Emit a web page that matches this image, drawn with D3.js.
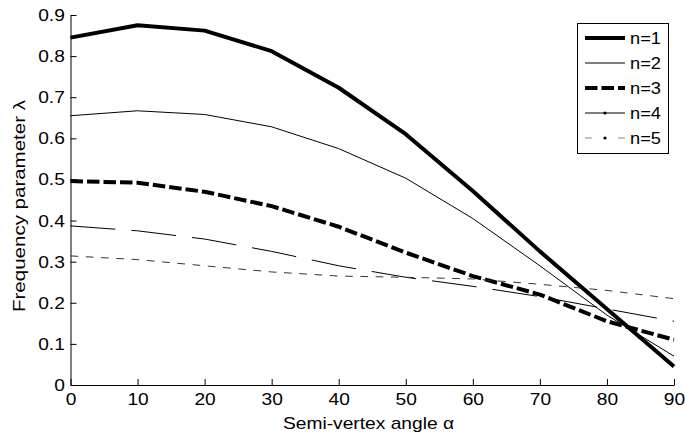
<!DOCTYPE html>
<html>
<head>
<meta charset="utf-8">
<script src="https://cdn.jsdelivr.net/npm/d3@7"></script>
<style>
  html, body { margin: 0; padding: 0; background: #fff; }
  svg { display: block; font-family: "Liberation Sans", Arial, sans-serif; }
</style>
</head>
<body>
<svg id="chart" width="685" height="439"></svg>
<script>
// Semi-vertex angle (degrees)
const angles = [0, 10, 20, 30, 40, 50, 60, 70, 80, 90];

// Frequency parameter for circumferential wave numbers n = 1..5
const n1 = [0.845, 0.875, 0.862, 0.812, 0.723, 0.610, 0.472, 0.325, 0.185, 0.045];
const n2 = [0.655, 0.667, 0.658, 0.628, 0.575, 0.503, 0.405, 0.290, 0.170, 0.070];
const n3 = [0.496, 0.492, 0.470, 0.435, 0.385, 0.322, 0.265, 0.220, 0.155, 0.110];
const n4 = [0.387, 0.375, 0.355, 0.325, 0.290, 0.262, 0.240, 0.215, 0.185, 0.155];
const n5 = [0.314, 0.305, 0.290, 0.275, 0.265, 0.262, 0.258, 0.245, 0.230, 0.210];

const seriesNames = ["n=1", "n=2", "n=3", "n=4", "n=5"];
const xTicks = [0, 10, 20, 30, 40, 50, 60, 70, 80, 90];
const yTicks = [0, 0.1, 0.2, 0.3, 0.4, 0.5, 0.6, 0.7, 0.8, 0.9];

const xTitle = "Semi-vertex angle α";
const yTitle = "Frequency parameter λ";

const styles = [
  { width: 4,   dash: null,       color: "#000", legendColor: "#000", legendDash: null,     dot: false },
  { width: 1,   dash: null,       color: "#000", legendColor: "#000", legendDash: null,     dot: false },
  { width: 4,   dash: "12.5,4",   color: "#000", legendColor: "#000", legendDash: "12.5,4", dot: true  },
  { width: 1,   dash: "45,16",    color: "#000", legendColor: "#000", legendDash: null,     dot: true  },
  { width: 1,   dash: "7.7,7.6",  color: "#333", legendColor: "#888", legendDash: "7,26",   dot: true  }
];

const svg = d3.select("#chart");
const FS = 17;       // font size
const SX = 1.13;     // horizontal glyph stretch

const x = d3.scaleLinear().domain([0, 90]).range([70.5, 674]);
const y = d3.scaleLinear().domain([0, 0.9]).range([385, 15]);

// Axes (ticks point inward, no box)
const xAxis = d3.axisBottom(x).tickValues(xTicks).tickFormat(d3.format("d"))
  .tickSizeInner(-6).tickSizeOuter(0).tickPadding(8);
const yAxis = d3.axisLeft(y).tickValues(yTicks).tickFormat(d => d === 0 ? "0" : d3.format(".1f")(d))
  .tickSizeInner(-6).tickSizeOuter(0).tickPadding(5);

const gx = svg.append("g").attr("transform", `translate(0,${y(0)})`).call(xAxis);
const gy = svg.append("g").attr("transform", `translate(${x(0)},0)`).call(yAxis);

[gx, gy].forEach(g => {
  g.select(".domain").attr("stroke", "#000").attr("stroke-width", 1);
  g.selectAll(".tick line").attr("stroke", "#000").attr("stroke-width", 1);
  g.selectAll(".tick text")
    .attr("font-size", FS)
    .attr("font-family", "Liberation Sans, Arial, sans-serif")
    .attr("fill", "#000")
    .attr("transform", `scale(${SX},1)`);
});

// Series
const data = [n1, n2, n3, n4, n5];
const line = d3.line().x((d, i) => x(angles[i])).y(d => y(d));

data.forEach((vals, k) => {
  const s = styles[k];
  svg.append("path")
    .datum(vals)
    .attr("d", line)
    .attr("fill", "none")
    .attr("stroke", s.color)
    .attr("stroke-width", s.width)
    .attr("stroke-linejoin", "round")
    .attr("stroke-dasharray", s.dash);
});

// Axis titles
svg.append("text")
  .attr("x", 283).attr("y", 429)
  .attr("font-size", FS)
  .attr("textLength", 171).attr("lengthAdjust", "spacingAndGlyphs")
  .text(xTitle);

svg.append("text")
  .attr("transform", "translate(25,312) rotate(-90)")
  .attr("x", 0).attr("y", 0)
  .attr("font-size", FS)
  .attr("textLength", 212).attr("lengthAdjust", "spacingAndGlyphs")
  .text(yTitle);

// Legend
const lg = svg.append("g");
lg.append("rect")
  .attr("x", 577.5).attr("y", 23.5).attr("width", 91).attr("height", 130)
  .attr("fill", "#fff").attr("stroke", "#000").attr("stroke-width", 1);

seriesNames.forEach((name, k) => {
  const s = styles[k];
  const cy = 38 + k * 25;
  lg.append("line")
    .attr("x1", 585).attr("x2", 625).attr("y1", cy).attr("y2", cy)
    .attr("stroke", s.legendColor)
    .attr("stroke-width", s.width)
    .attr("stroke-dasharray", s.legendDash);
  if (s.dot) {
    lg.append("circle").attr("cx", 605).attr("cy", cy).attr("r", 1.6).attr("fill", "#000");
  }
  lg.append("text")
    .attr("x", 630).attr("y", cy + 6)
    .attr("font-size", FS)
    .attr("textLength", 31).attr("lengthAdjust", "spacingAndGlyphs")
    .text(name);
});
</script>
</body>
</html>
